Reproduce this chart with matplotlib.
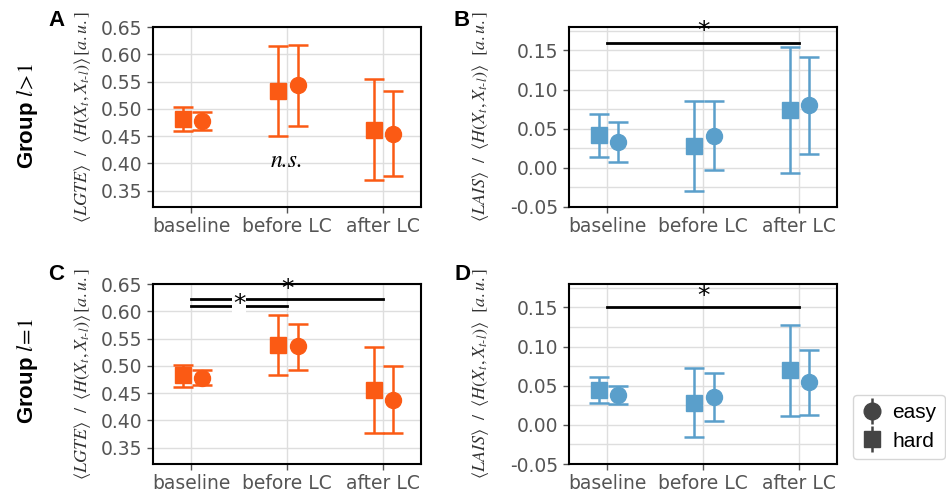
import numpy as np
import matplotlib
matplotlib.use("Agg")
import matplotlib.pyplot as plt
from matplotlib.lines import Line2D
from matplotlib.legend_handler import HandlerTuple
from matplotlib.ticker import MultipleLocator, FormatStrFormatter

plt.rcParams['mathtext.fontset'] = 'stix'
plt.rcParams['axes.unicode_minus'] = False

# conditions on the x axis
conditions = ["baseline", "before LC", "after LC"]

# panel A: LGTE, group l>1
a_hard = [0.482, 0.533, 0.462]
a_hard_lo = [0.459, 0.450, 0.370]
a_hard_hi = [0.503, 0.615, 0.554]
a_easy = [0.478, 0.543, 0.454]
a_easy_lo = [0.462, 0.469, 0.377]
a_easy_hi = [0.494, 0.617, 0.532]

# panel B: LAIS, group l>1
b_hard = [0.042, 0.028, 0.074]
b_hard_lo = [0.014, -0.029, -0.006]
b_hard_hi = [0.069, 0.086, 0.155]
b_easy = [0.033, 0.041, 0.080]
b_easy_lo = [0.008, -0.003, 0.018]
b_easy_hi = [0.058, 0.085, 0.142]

# panel C: LGTE, group l=1
c_hard = [0.483, 0.539, 0.456]
c_hard_lo = [0.462, 0.483, 0.377]
c_hard_hi = [0.502, 0.594, 0.534]
c_easy = [0.478, 0.536, 0.438]
c_easy_lo = [0.464, 0.493, 0.377]
c_easy_hi = [0.493, 0.577, 0.500]

# panel D: LAIS, group l=1
d_hard = [0.044, 0.028, 0.070]
d_hard_lo = [0.028, -0.016, 0.011]
d_hard_hi = [0.061, 0.073, 0.128]
d_easy = [0.038, 0.036, 0.055]
d_easy_lo = [0.027, 0.005, 0.013]
d_easy_hi = [0.050, 0.066, 0.096]

orange = '#fb5a14'
blue = '#5a9fcb'
tick_grey = '#555555'

fig = plt.figure(figsize=(9.46, 4.97), dpi=100)

W, H = 946, 497
def axes_px(left, top, right, bottom):
    return fig.add_axes([left / W, 1 - bottom / H, (right - left) / W, (bottom - top) / H])

axA = axes_px(153, 27, 421, 207)
axB = axes_px(569, 27, 837, 207)
axC = axes_px(153, 284, 421, 464)
axD = axes_px(569, 284, 837, 464)

x = np.arange(len(conditions))
off_hard = -0.09
off_easy = 0.11


def draw_panel(ax, color, hard, hard_lo, hard_hi, easy, easy_lo, easy_hi):
    hard = np.array(hard)
    easy = np.array(easy)
    err_h = [hard - np.array(hard_lo), np.array(hard_hi) - hard]
    err_e = [easy - np.array(easy_lo), np.array(easy_hi) - easy]
    ax.errorbar(x + off_hard, hard, yerr=err_h, fmt='s', color=color,
                markersize=11.5, elinewidth=1.8, capsize=7, capthick=1.8, zorder=3)
    ax.errorbar(x + off_easy, easy, yerr=err_e, fmt='o', color=color,
                markersize=11.5, elinewidth=1.8, capsize=7, capthick=1.8, zorder=3)
    ax.set_xlim(-0.4, 2.4)
    ax.set_xticks(x)
    ax.set_xticklabels(conditions)
    ax.yaxis.set_major_formatter(FormatStrFormatter('%.2f'))
    ax.tick_params(axis='both', colors=tick_grey, labelsize=13.5, length=4, width=1)
    ax.tick_params(axis='y', which='minor', length=0)
    ax.grid(True, which='both', color='#dedede', linewidth=1, zorder=0)
    ax.set_axisbelow(True)
    for s in ax.spines.values():
        s.set_color('black')
        s.set_linewidth(1.5)


lgte_label = r'$\langle LGTE\rangle\ \ /\ \ \langle H(X_t,X_{t\text{-}l})\rangle\,[a.u.]$'
lais_label = r'$\langle LAIS\rangle\ \ /\ \ \langle H(X_t,X_{t\text{-}l})\rangle\ \ [a.u.]$'

for ax, col, data in [
        (axA, orange, (a_hard, a_hard_lo, a_hard_hi, a_easy, a_easy_lo, a_easy_hi)),
        (axB, blue, (b_hard, b_hard_lo, b_hard_hi, b_easy, b_easy_lo, b_easy_hi)),
        (axC, orange, (c_hard, c_hard_lo, c_hard_hi, c_easy, c_easy_lo, c_easy_hi)),
        (axD, blue, (d_hard, d_hard_lo, d_hard_hi, d_easy, d_easy_lo, d_easy_hi))]:
    draw_panel(ax, col, *data)

for ax in (axA, axC):
    ax.set_ylim(0.32, 0.65)
    ax.set_yticks(np.arange(0.35, 0.651, 0.05))
    ax.set_ylabel(lgte_label, fontsize=13, color='#333333')
    ax.yaxis.set_label_coords(-0.225, 0.5)

for ax in (axB, axD):
    ax.set_ylim(-0.05, 0.18)
    ax.set_yticks(np.arange(-0.05, 0.151, 0.05))
    ax.yaxis.set_minor_locator(MultipleLocator(0.025))
    ax.set_ylabel(lais_label, fontsize=13, color='#333333')
    ax.yaxis.set_label_coords(-0.29, 0.5)

# significance marks
axA.text(1, 0.405, 'n.s.', fontsize=17, family='STIXGeneral', fontstyle='italic',
         ha='center', va='center')

axB.plot([0, 2], [0.160, 0.160], color='black', lw=2, zorder=4)
axB.text(1, 0.159, '*', fontsize=18, ha='center', va='bottom')

axC.plot([0, 2], [0.622, 0.622], color='black', lw=2, zorder=4)
axC.plot([0, 1], [0.609, 0.609], color='black', lw=2, zorder=4)
axC.text(1, 0.619, '*', fontsize=18, ha='center', va='bottom')
axC.text(0.5, 0.613, '*', fontsize=18, ha='center', va='center', zorder=5,
         bbox=dict(facecolor='white', edgecolor='none', pad=0.3))

axD.plot([0, 2], [0.150, 0.150], color='black', lw=2, zorder=4)
axD.text(1, 0.149, '*', fontsize=18, ha='center', va='bottom')

# panel letters and row labels
sans = 'Liberation Sans'
for lab, px, py in [('A', 56, 20), ('B', 462, 20), ('C', 56, 275), ('D', 462, 275)]:
    fig.text(px / W, 1 - py / H, lab, fontsize=16, fontweight='bold', family=sans,
             ha='center', va='center')

fig.text(28 / W, 1 - 116 / H, r'Group $l\!>\!1$', rotation=90, fontsize=16,
         fontweight='bold', family=sans, ha='center', va='center')
fig.text(28 / W, 1 - 371 / H, r'Group $l\!=\!1$', rotation=90, fontsize=16,
         fontweight='bold', family=sans, ha='center', va='center')

# legend
grey = '#444444'
h_easy = (Line2D([], [], marker='|', color=grey, linestyle='none', markersize=19, mew=1.8),
          Line2D([], [], marker='o', color=grey, linestyle='none', markersize=12))
h_hard = (Line2D([], [], marker='|', color=grey, linestyle='none', markersize=19, mew=1.8),
          Line2D([], [], marker='s', color=grey, linestyle='none', markersize=12))
fig.legend([h_easy, h_hard], ['easy', 'hard'], handler_map={tuple: HandlerTuple(ndivide=1)},
           loc='upper left', bbox_to_anchor=(853 / W, 1 - 395 / H), borderaxespad=0,
           prop={'family': sans, 'size': 15}, handlelength=1.0, handletextpad=0.5,
           labelspacing=0.45, frameon=True, edgecolor='#cccccc', fancybox=True)

fig.savefig('out.png', dpi=100)
